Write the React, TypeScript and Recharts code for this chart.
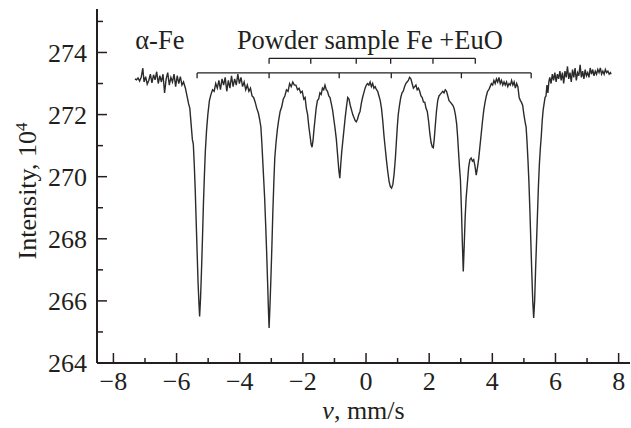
import { LineChart, Line, XAxis, YAxis, ReferenceLine, ReferenceDot, Label } from "recharts";

// velocity (mm/s) and intensity (x10^4)
const velocity = [
  -7.32, -7.27, -7.22, -7.17, -7.12, -7.07, -7.03, -6.98, -6.93, -6.88, -6.83, -6.78, -6.73, -6.68, -6.63, -6.58,
  -6.53, -6.48, -6.43, -6.38, -6.33, -6.28, -6.23, -6.18, -6.13, -6.08, -6.03, -5.98, -5.93, -5.88, -5.83, -5.78,
  -5.72, -5.67, -5.62, -5.58, -5.54, -5.5, -5.47, -5.44, -5.41, -5.38, -5.35, -5.32, -5.29, -5.27, -5.24, -5.21,
  -5.18, -5.15, -5.12, -5.09, -5.05, -5.01, -4.96, -4.91, -4.86, -4.81, -4.76, -4.71, -4.66, -4.61, -4.56, -4.51,
  -4.46, -4.41, -4.36, -4.31, -4.26, -4.21, -4.16, -4.11, -4.06, -4.01, -3.96, -3.91, -3.86, -3.81, -3.76, -3.71,
  -3.66, -3.61, -3.56, -3.51, -3.46, -3.41, -3.37, -3.33, -3.3, -3.27, -3.24, -3.21, -3.18, -3.15, -3.12, -3.09,
  -3.07, -3.04, -3.01, -2.98, -2.95, -2.92, -2.89, -2.85, -2.81, -2.77, -2.72, -2.67, -2.62, -2.57, -2.52, -2.47,
  -2.42, -2.37, -2.32, -2.27, -2.22, -2.17, -2.12, -2.07, -2.02, -1.97, -1.93, -1.89, -1.85, -1.81, -1.77, -1.74,
  -1.71, -1.68, -1.65, -1.62, -1.58, -1.54, -1.5, -1.46, -1.42, -1.38, -1.34, -1.3, -1.26, -1.22, -1.18, -1.14,
  -1.1, -1.06, -1.02, -0.98, -0.94, -0.9, -0.86, -0.83, -0.8, -0.77, -0.73, -0.7, -0.66, -0.62, -0.58, -0.54,
  -0.5, -0.46, -0.42, -0.38, -0.34, -0.31, -0.27, -0.23, -0.19, -0.15, -0.11, -0.07, -0.03, 0.01, 0.05, 0.09,
  0.13, 0.17, 0.21, 0.25, 0.29, 0.33, 0.37, 0.41, 0.45, 0.49, 0.53, 0.57, 0.61, 0.65, 0.69, 0.73,
  0.77, 0.81, 0.85, 0.89, 0.93, 0.96, 0.99, 1.02, 1.06, 1.1, 1.14, 1.18, 1.22, 1.26, 1.3, 1.34,
  1.38, 1.42, 1.46, 1.5, 1.54, 1.58, 1.62, 1.66, 1.7, 1.74, 1.78, 1.82, 1.86, 1.9, 1.94, 1.98,
  2.02, 2.06, 2.1, 2.13, 2.16, 2.19, 2.23, 2.27, 2.31, 2.35, 2.39, 2.43, 2.47, 2.51, 2.55, 2.59,
  2.63, 2.67, 2.71, 2.75, 2.79, 2.83, 2.87, 2.9, 2.93, 2.96, 2.99, 3.02, 3.05, 3.08, 3.11, 3.14,
  3.17, 3.21, 3.25, 3.29, 3.33, 3.37, 3.41, 3.45, 3.49, 3.53, 3.57, 3.61, 3.65, 3.69, 3.73, 3.77,
  3.81, 3.85, 3.89, 3.93, 3.97, 4.01, 4.05, 4.09, 4.13, 4.17, 4.21, 4.25, 4.29, 4.33, 4.37, 4.41,
  4.45, 4.49, 4.53, 4.57, 4.61, 4.65, 4.69, 4.73, 4.77, 4.81, 4.85, 4.89, 4.92, 4.96, 5.0, 5.04,
  5.07, 5.1, 5.13, 5.16, 5.19, 5.22, 5.25, 5.28, 5.31, 5.34, 5.37, 5.4, 5.43, 5.46, 5.49, 5.52,
  5.55, 5.58, 5.61, 5.64, 5.67, 5.7, 5.73, 5.76, 5.79, 5.82, 5.86, 5.9, 5.94, 5.98, 6.02, 6.06,
  6.1, 6.14, 6.18, 6.22, 6.26, 6.3, 6.34, 6.38, 6.42, 6.46, 6.5, 6.54, 6.58, 6.62, 6.66, 6.7,
  6.74, 6.78, 6.82, 6.86, 6.9, 6.94, 6.98, 7.02, 7.06, 7.1, 7.14, 7.18, 7.22, 7.26, 7.3, 7.34,
  7.38, 7.42, 7.46, 7.5, 7.54, 7.58, 7.62, 7.66, 7.7, 7.74, 7.76,
];

const intensity = [
  273.15, 273.12, 273.18, 273.08, 273.2, 273.5, 273.05, 273.22, 272.98, 273.1, 273.3, 273.02, 273.28, 273.12, 273.38, 273.0,
  273.25, 273.05, 273.3, 272.7, 273.15, 273.35, 272.95, 273.2, 273.05, 273.3, 272.9, 273.25, 273.0, 273.22, 272.95, 273.05,
  272.85, 272.6, 272.35, 272.2, 271.7, 271.2, 271.05, 270.4, 269.6, 268.6, 267.6, 266.6, 265.9, 265.5, 266.1, 267.0,
  268.0, 269.1, 270.0, 270.8, 271.5, 272.0, 272.45, 272.65, 272.8, 272.75, 273.0, 272.85, 273.1, 272.8, 273.15, 272.95,
  273.2, 272.75, 273.1, 272.85, 273.25, 272.9, 273.15, 272.95, 273.3, 273.0, 273.2, 272.9, 273.05, 272.8, 272.95, 272.75,
  272.85, 272.6, 272.55, 272.4, 272.2, 272.05, 271.85, 271.6, 271.1, 270.5, 269.9, 269.3, 268.5, 267.65, 266.7, 265.7,
  265.13, 265.9, 266.8, 267.8, 268.9, 269.8, 270.6, 271.1, 271.5, 271.8, 272.1, 272.25, 272.5, 272.6, 272.8, 272.75,
  273.0, 272.9, 273.05, 272.95, 272.95, 272.8, 272.85, 272.7, 272.75, 272.5, 272.55, 272.2, 272.0, 271.6, 271.3, 271.05,
  270.95, 271.15, 271.5, 271.8, 272.2, 272.45, 272.5, 272.7, 272.65, 272.85, 272.8, 272.95, 272.8, 272.75, 272.6, 272.55,
  272.35, 272.15, 271.85, 271.55, 271.2, 270.7, 270.2, 269.95, 270.4, 270.8, 271.2, 271.5, 271.9, 272.25, 272.55, 272.5,
  272.3, 272.15, 272.0, 271.9, 271.8, 271.77, 271.85, 272.0, 272.1, 272.35, 272.55, 272.7, 272.85, 272.95, 273.0, 272.95,
  273.05, 272.9, 273.0, 272.85, 272.9, 272.8, 272.75, 272.6, 272.45, 272.2, 271.8, 271.3, 270.9, 270.5, 270.15, 269.85,
  269.68, 269.63, 269.75, 270.1, 270.6, 271.1, 271.6, 272.0, 272.3, 272.55, 272.7, 272.75, 272.9, 273.0, 273.05, 273.1,
  273.2, 273.15, 273.0, 272.85, 272.9, 272.95, 272.8, 272.85, 272.75, 272.6, 272.55, 272.4, 272.4, 272.2, 272.1, 271.8,
  271.4, 271.1, 270.95, 270.93, 271.2, 271.6, 272.1, 272.45, 272.6, 272.65, 272.7, 272.75, 272.7, 272.8, 272.75, 272.6,
  272.45, 272.4, 272.35, 272.3, 272.2, 272.0, 271.7, 271.3, 270.8, 270.3, 269.9, 269.0, 267.9, 266.95, 267.8, 268.7,
  269.3, 269.8, 270.3, 270.55, 270.6, 270.5, 270.55, 270.35, 270.05, 270.3, 270.6, 271.0, 271.4, 271.8, 272.15, 272.4,
  272.6, 272.75, 272.8, 272.9, 273.0, 272.95, 273.1, 273.0, 273.15, 273.05, 273.2, 273.0, 273.1, 272.95, 273.05, 272.95,
  273.05, 272.9, 273.0, 272.95, 273.1, 272.95, 273.05, 272.85, 273.0, 272.9, 272.55, 272.45, 272.4, 272.3, 272.0, 271.75,
  271.6, 271.1, 270.5, 269.8, 268.9, 267.9, 266.9, 266.0, 265.45, 266.0, 267.0, 267.9, 268.8, 269.7, 270.4, 270.9,
  271.3, 271.8, 272.15, 272.35, 272.55, 272.6, 272.95, 272.7, 273.05, 273.2, 273.0, 273.3, 273.1, 273.35, 273.05, 273.3,
  273.15, 273.4, 273.1, 273.35, 273.0, 273.4, 273.2, 273.55, 273.15, 273.35, 273.05, 273.45, 273.2, 273.5, 273.1, 273.35,
  273.25, 273.6, 273.2, 273.4, 273.15, 273.45, 273.25, 273.35, 273.2, 273.5, 273.3, 273.45, 273.25, 273.4, 273.3, 273.45,
  273.35, 273.5, 273.3, 273.4, 273.3, 273.45, 273.35, 273.4, 273.3, 273.35, 273.3,
];

// stick diagrams above the spectrum
const alphaFeLines = [-5.35, -3.07, -0.85, 0.8, 3.02, 5.23];
const euoLines = [-3.07, -1.75, -0.31, 0.78, 2.12, 3.46];
const alphaFeLevel = 273.34;
const euoLevel = 273.81;
const stickDrop = 0.17;

const xTicks = [-8, -7, -6, -5, -4, -3, -2, -1, 0, 1, 2, 3, 4, 5, 6, 7, 8];
const yTicks = [264, 265, 266, 267, 268, 269, 270, 271, 272, 273, 274, 275];

const data = velocity.map((v, i) => ({ v, intensity: intensity[i] }));

const ink = "#231f20";
const face = "'Times New Roman', Times, 'Liberation Serif', 'DejaVu Serif', serif";

const fmt = (n: number) => (n < 0 ? `\u2212${Math.abs(n)}` : `${n}`);

function YTick(props: any) {
  const { x, y, payload } = props;
  const major = payload.value % 2 === 0;
  const ax = x + 10;
  return (
    <g>
      <line x1={ax} x2={ax + (major ? 10 : 6)} y1={y} y2={y} stroke={ink} strokeWidth={1.5} />
      {major && (
        <text x={x} y={y} dy="0.35em" textAnchor="end" fontSize={26} fontFamily={face} fill={ink}>
          {payload.value}
        </text>
      )}
    </g>
  );
}

function XTick(props: any) {
  const { x, y, payload } = props;
  const major = payload.value % 2 === 0;
  const ay = y - 9;
  return (
    <g>
      <line x1={x} x2={x} y1={ay} y2={ay - (major ? 10 : 5)} stroke={ink} strokeWidth={1.5} />
      {major && (
        <text x={x} y={y} dy="0.71em" textAnchor="middle" fontSize={26} fontFamily={face} fill={ink}>
          {fmt(payload.value)}
        </text>
      )}
    </g>
  );
}

function YTitle({ viewBox }: any) {
  const cx = viewBox.x + 27;
  const cy = viewBox.y + viewBox.height / 2 + 5;
  return (
    <text x={cx} y={cy} transform={`rotate(-90 ${cx} ${cy})`} textAnchor="middle" dy="0.35em" fontSize={26} fontFamily={face} fill={ink}>
      Intensity, 10<tspan dy="-9" fontSize={17}>4</tspan>
    </text>
  );
}

function XTitle({ viewBox }: any) {
  const cx = viewBox.x + viewBox.width / 2;
  return (
    <text x={cx} y={419} textAnchor="middle" fontSize={26} fontFamily={face} fill={ink}>
      <tspan fontStyle="italic">v</tspan>, mm/s
    </text>
  );
}

const textShape = (txt: string) => (p: any) => (
  <text x={p.cx} y={p.cy} fontSize={26.5} fontFamily={face} fill={ink}>{txt}</text>
);

export default function App() {
  return (
    <div style={{ position: "absolute", left: 0, top: 0, background: "#fff", fontFamily: face }}>
      <LineChart width={631} height={428} data={data} margin={{ top: 9, right: 1, bottom: 0, left: 0 }}>
        <XAxis
          dataKey="v"
          type="number"
          domain={[-8.52, 8.36]}
          ticks={xTicks}
          interval={0}
          allowDataOverflow
          height={65}
          tickSize={0}
          tickMargin={9}
          tick={<XTick />}
          axisLine={{ stroke: ink, strokeWidth: 2 }}
        >
          <Label content={<XTitle />} />
        </XAxis>
        <YAxis
          type="number"
          domain={[264, 275.4]}
          ticks={yTicks}
          interval={0}
          allowDataOverflow
          width={97}
          tickSize={0}
          tickMargin={10}
          tick={<YTick />}
          axisLine={{ stroke: ink, strokeWidth: 2 }}
        >
          <Label content={<YTitle />} />
        </YAxis>
        <ReferenceLine
          segment={[{ x: alphaFeLines[0], y: alphaFeLevel }, { x: alphaFeLines[alphaFeLines.length - 1], y: alphaFeLevel }]}
          stroke={ink}
          strokeWidth={1.3}
          ifOverflow="visible"
        />
        {alphaFeLines.map((p) => (
          <ReferenceLine key={`a${p}`} segment={[{ x: p, y: alphaFeLevel }, { x: p, y: alphaFeLevel - stickDrop }]} stroke={ink} strokeWidth={1.3} ifOverflow="visible" />
        ))}
        <ReferenceLine
          segment={[{ x: euoLines[0], y: euoLevel }, { x: euoLines[euoLines.length - 1], y: euoLevel }]}
          stroke={ink}
          strokeWidth={1.3}
          ifOverflow="visible"
        />
        {euoLines.map((p) => (
          <ReferenceLine key={`e${p}`} segment={[{ x: p, y: euoLevel }, { x: p, y: euoLevel - stickDrop }]} stroke={ink} strokeWidth={1.3} ifOverflow="visible" />
        ))}
        <ReferenceDot x={-7.31} y={274.1} r={0} ifOverflow="visible" shape={textShape("\u03b1-Fe")} />
        <ReferenceDot x={-4.09} y={274.1} r={0} ifOverflow="visible" shape={textShape("Powder sample Fe +EuO")} />
        <Line
          type="linear"
          dataKey="intensity"
          stroke="#2b2b2b"
          strokeWidth={1.4}
          dot={false}
          isAnimationActive={false}
        />
      </LineChart>
    </div>
  );
}
